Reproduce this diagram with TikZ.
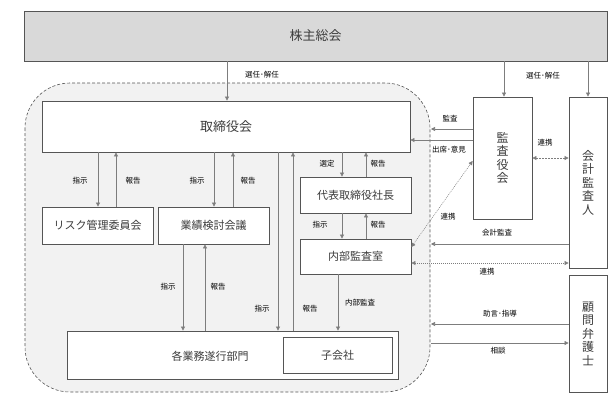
\documentclass[tikz,border=0pt]{standalone}
\usepackage{fontspec}
\setmainfont{Noto Sans CJK JP}
\usepackage{tikz}
\usetikzlibrary{calc}
\usetikzlibrary{arrows.meta}
\definecolor{BoxGray}{RGB}{85,85,85}
\definecolor{LineGray}{RGB}{125,125,125}
\definecolor{TextGray}{RGB}{60,60,60}
\definecolor{HeadFill}{RGB}{217,217,217}
\definecolor{ZoneFill}{RGB}{242,242,242}

\tikzset{
	box/.style={draw=BoxGray, fill=white, line width=0.8pt, inner sep=0pt, text=TextGray, font=\fontsize{11}{13}\selectfont},
	vbox/.style={box, align=center, font=\fontsize{12}{13.5}\selectfont},
	lbl/.style={inner sep=0pt, text=black, font=\fontsize{7.5}{8}\selectfont},
	arr/.style={draw=LineGray, line width=0.6pt, -{Triangle[length=4pt,width=4pt]}},
	twoway/.style={arr, {Triangle[length=4pt,width=4pt]}-{Triangle[length=4pt,width=4pt]}}
}

\begin{document}
\begin{tikzpicture}[x=1pt,y=-1pt]
		\useasboundingbox (0,0) rectangle (616,408);
		
		% area of the board
		\draw [draw=BoxGray, fill=ZoneFill, line width=0.6pt, dash pattern=on 3pt off 2pt, rounded corners=45pt] (25,83) rectangle (430,392);
		\coordinate (edge) at (431,0);
		
		\node [box, fill=HeadFill, minimum width=583pt, minimum height=50pt, font=\fontsize{13}{15}\selectfont] (gm) at (315.5,36) {株主総会};
		\node [box, minimum width=368pt, minimum height=51pt, font=\fontsize{13}{15}\selectfont] (board) at (226,126.5) {取締役会};
		\node [box, minimum width=111pt, minimum height=37pt] (risk) at (97.5,225.5) {リスク管理委員会};
		\node [box, minimum width=111pt, minimum height=37pt] (perf) at (213.5,225.5) {業績検討会議};
		\node [box, minimum width=111pt, minimum height=36pt] (pres) at (355.5,195) {代表取締役社長};
		\node [box, minimum width=111pt, minimum height=35pt] (iaud) at (355.5,256.5) {内部監査室};
		\node [box, minimum width=331pt, minimum height=48pt] (ops) at (232.5,355) {};
		\node [text=TextGray, font=\fontsize{11}{13}\selectfont] (opstxt) at (210,356) {各業務遂行部門};
		\node [box, minimum width=109pt, minimum height=36pt] (sub) at (337.5,355) {子会社};
		
		\node [vbox, minimum width=59pt, minimum height=122pt] (kansa) at (502.5,158) {監\\査\\役\\会};
		\node [vbox, minimum width=38pt, minimum height=171pt] (acct) at (588,182.5) {会\\計\\監\\査\\人};
		\node [vbox, minimum width=38pt, minimum height=117pt] (law) at (588,333.5) {顧\\問\\弁\\護\\士};
		
		% from the general meeting
		\draw [arr] (gm.south -| 227,0) -- (board.north -| 227,0);
		\draw [arr] (gm.south -| 504,0) -- (kansa.north -| 504,0);
		\draw [arr] (gm.south -| 588,0) -- (acct.north -| 588,0);
		\node [lbl] (l1) at (262,75) {選任･解任};
		\node [lbl] (l2) at (543,76) {選任･解任};
		
		% board and committees
		\draw [arr] (board.south -| 98,0) -- (risk.north -| 98,0);
		\draw [arr] (risk.north -| 116,0) -- (board.south -| 116,0);
		\draw [arr] (board.south -| 214,0) -- (perf.north -| 214,0);
		\draw [arr] (perf.north -| 233,0) -- (board.south -| 233,0);
		\node [lbl] (l3) at (80,181) {指示};
		\node [lbl] (l4) at (133,181) {報告};
		\node [lbl] (l5) at (197,181) {指示};
		\node [lbl] (l6) at (248,181) {報告};
		
		\draw [arr] (board.south -| 342,0) -- (pres.north -| 342,0);
		\draw [arr] (pres.north -| 366,0) -- (board.south -| 366,0);
		\draw [arr] (pres.south -| 342,0) -- (iaud.north -| 342,0);
		\draw [arr] (iaud.north -| 366,0) -- (pres.south -| 366,0);
		\node [lbl] (l7) at (327,164) {選定};
		\node [lbl] (l8) at (378,164) {報告};
		\node [lbl] (l9) at (320,225) {指示};
		\node [lbl] (l10) at (378,225) {報告};
		
		% down to the divisions
		\draw [arr] (perf.south -| 183,0) -- (ops.north -| 183,0);
		\draw [arr] (ops.north -| 205,0) -- (perf.south -| 205,0);
		\draw [arr] (board.south -| 278,0) -- (ops.north -| 278,0);
		\draw [arr] (ops.north -| 293,0) -- (board.south -| 293,0);
		\draw [arr] (iaud.south -| 338,0) -- (ops.north -| 338,0);
		\node [lbl] (l11) at (168,287) {指示};
		\node [lbl] (l12) at (218,287) {報告};
		\node [lbl] (l13) at (262,309) {指示};
		\node [lbl] (l14) at (310,309) {報告};
		\node [lbl] (l15) at (360,303) {内部監査};
		
		% audit side
		\draw [arr] (kansa.west |- 0,129) -- (edge |- 0,129);
		\draw [arr] (kansa.west |- 0,140) -- (board.east |- 0,140);
		\draw [twoway, dash pattern=on 2pt off 1pt] (kansa.east |- 0,158) -- (acct.west |- 0,158);
		\draw [twoway, line width=0.5pt, dash pattern=on 1pt off 1pt] (iaud.east |- 0,247) -- (kansa.west |- 0,161);
		\draw [arr] (acct.west |- 0,244) -- (edge |- 0,244);
		\draw [twoway, dash pattern=on 1pt off 1pt] (iaud.east |- 0,263) -- (acct.west |- 0,263);
		\draw [arr] (law.west |- 0,324) -- (edge |- 0,324);
		\draw [arr] (edge |- 0,343) -- (law.west |- 0,343);
		\node [lbl] (l16) at (450,119) {監査};
		\node [lbl] (l17) at (449,150) {出席･意見};
		\node [lbl] (l18) at (545,143) {連携};
		\node [lbl] (l19) at (448,217) {連携};
		\node [lbl] (l20) at (497,233) {会計監査};
		\node [lbl] (l21) at (487,272) {連携};
		\node [lbl] (l22) at (500,314) {助言･指導};
		\node [lbl] (l23) at (498,351) {相談};
	\end{tikzpicture}
\end{document}
